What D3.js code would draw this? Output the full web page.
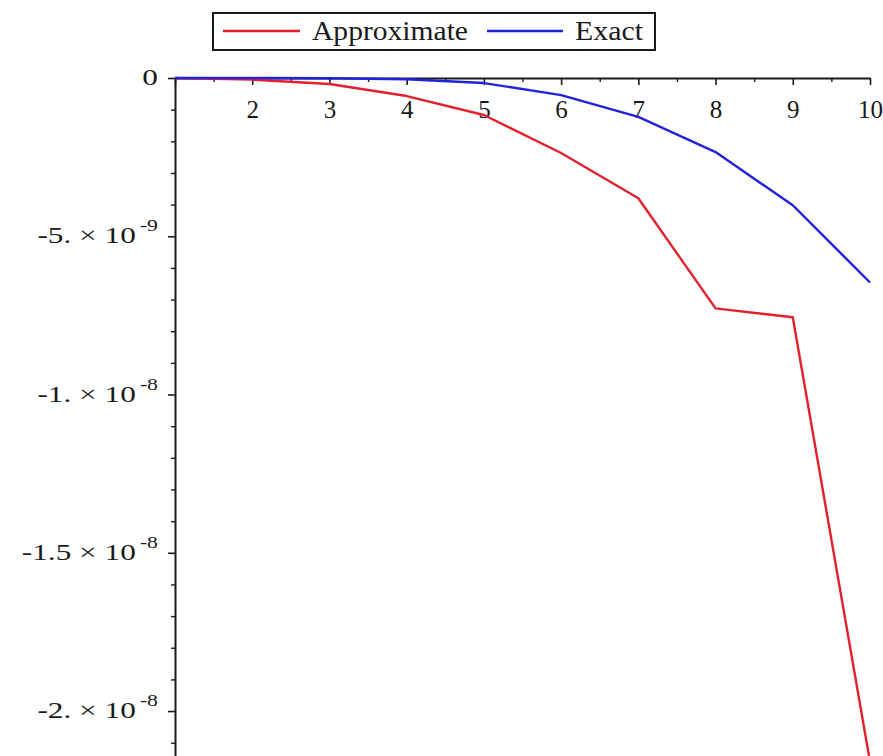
<!DOCTYPE html>
<html>
<head>
<meta charset="utf-8">
<script src="https://cdn.jsdelivr.net/npm/d3@7"></script>
<style>
  body { margin: 0; background: #fff; }
  text { font-family: "Liberation Serif", "DejaVu Serif", serif; fill: #1a1a1a; }
</style>
</head>
<body>
<div id="chart"></div>
<script>
// data
var nValues = [1, 2, 3, 4, 5, 6, 7, 8, 9, 10];
var approximate = [0, -0.05e-9, -0.19e-9, -0.57e-9, -1.17e-9, -2.37e-9, -3.8e-9, -7.28e-9, -7.56e-9, -2.16e-8];
var exact = [0, -0.002e-9, -0.01e-9, -0.04e-9, -0.16e-9, -0.54e-9, -1.23e-9, -2.34e-9, -4.02e-9, -6.46e-9];

var xTicks = [2, 3, 4, 5, 6, 7, 8, 9, 10];
var yTicks = [0, -5e-9, -1e-8, -1.5e-8, -2e-8];
var yTickMant = ["0", "-5. \u00d7 10", "-1. \u00d7 10", "-1.5 \u00d7 10", "-2. \u00d7 10"];
var yTickExp = ["", "-9", "-8", "-8", "-8"];
var seriesNames = ["Approximate", "Exact"];
var seriesColors = ["#e3202c", "#2222dd"];

var width = 883, height = 756;
var margin = {top: 78, left: 175, right: 13, bottom: 0};

var svg = d3.select("#chart").append("svg")
  .attr("width", width)
  .attr("height", height);

var x = d3.scaleLinear().domain([1, 10]).range([margin.left, width - margin.right]);
var y = d3.scaleLinear().domain([0, -2.142e-8]).range([margin.top, height - margin.bottom]);

// minor ticks
var xMinor = d3.range(1.5, 10, 1);
var yMinor = d3.range(0, -2.15e-8, -1e-9).filter(function(v){ return Math.abs((v / 5e-9) - Math.round(v / 5e-9)) > 1e-6; });

// x axis
var gx = svg.append("g")
  .attr("transform", "translate(0," + y(0) + ")")
  .call(d3.axisBottom(x).tickValues([1].concat(xTicks)).tickSize(7).tickSizeOuter(0).tickPadding(15)
    .tickFormat(function(d){ return d === 1 ? "" : d; }));
gx.select(".domain").attr("stroke", "#1a1a1a").attr("stroke-width", 2);
gx.selectAll(".tick line").attr("stroke", "#1a1a1a").attr("stroke-width", 1.6);
gx.selectAll("text").style("font-size", "25px").attr("fill", "#1a1a1a");

svg.append("g")
  .attr("transform", "translate(0," + y(0) + ")")
  .call(d3.axisBottom(x).tickValues(xMinor).tickSize(4).tickFormat(""))
  .call(function(g){ g.select(".domain").remove(); })
  .selectAll(".tick line").attr("stroke", "#1a1a1a").attr("stroke-width", 1.4);

// y axis
var gy = svg.append("g")
  .attr("transform", "translate(" + x(1) + ",0)")
  .call(d3.axisLeft(y).tickValues(yTicks).tickSize(7).tickSizeOuter(0).tickFormat(""));
gy.select(".domain").attr("stroke", "#1a1a1a").attr("stroke-width", 2);
gy.selectAll(".tick line").attr("stroke", "#1a1a1a").attr("stroke-width", 1.6);

svg.append("g")
  .attr("transform", "translate(" + x(1) + ",0)")
  .call(d3.axisLeft(y).tickValues(yMinor).tickSize(4).tickFormat(""))
  .call(function(g){ g.select(".domain").remove(); })
  .selectAll(".tick line").attr("stroke", "#1a1a1a").attr("stroke-width", 1.4);

// y tick labels with superscript exponent (stretched wide like the original)
var yl = svg.append("g").selectAll("text")
  .data(yTicks)
  .enter().append("text")
  .attr("transform", function(d){ return "translate(" + (x(1) - 17) + "," + (y(d) + 7) + ") scale(1.36,1)"; })
  .style("text-anchor", "end")
  .style("font-size", "23px");
yl.append("tspan").text(function(d, i){ return yTickMant[i]; });
yl.append("tspan")
  .attr("dx", 3)
  .attr("dy", -12)
  .style("font-size", "16px")
  .text(function(d, i){ return yTickExp[i]; });

// lines
var line = d3.line()
  .x(function(d, i){ return x(nValues[i]); })
  .y(function(d){ return y(d); });

[approximate, exact].forEach(function(vals, k){
  svg.append("path")
    .datum(vals)
    .attr("fill", "none")
    .attr("stroke", seriesColors[k])
    .attr("stroke-width", 2.4)
    .attr("stroke-linejoin", "round")
    .attr("d", line);
});

// legend
var legend = svg.append("g");
legend.append("rect")
  .attr("x", 213).attr("y", 13)
  .attr("width", 442).attr("height", 37)
  .attr("fill", "#fff")
  .attr("stroke", "#1a1a1a")
  .attr("stroke-width", 2);

var legX = [[223, 300, 312, 156], [487, 563, 575, 68]];
seriesNames.forEach(function(name, k){
  legend.append("line")
    .attr("x1", legX[k][0]).attr("x2", legX[k][1])
    .attr("y1", 31).attr("y2", 31)
    .attr("stroke", seriesColors[k])
    .attr("stroke-width", 2.4);
  legend.append("text")
    .attr("x", legX[k][2])
    .attr("y", 40)
    .attr("textLength", legX[k][3])
    .attr("lengthAdjust", "spacingAndGlyphs")
    .style("font-size", "28px")
    .text(name);
});
</script>
</body>
</html>
